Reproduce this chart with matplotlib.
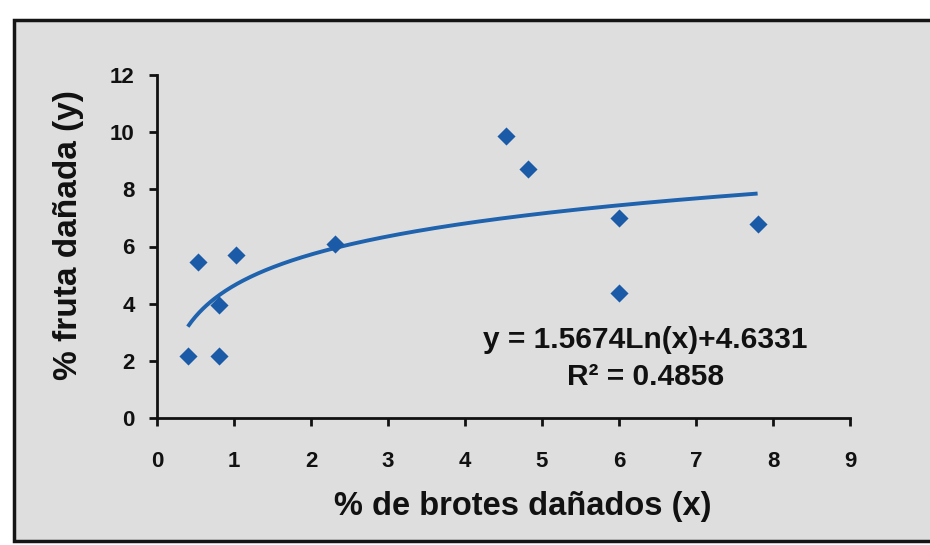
import matplotlib
matplotlib.use("Agg")
import matplotlib.pyplot as plt
import numpy as np
from matplotlib.patches import Rectangle

# ---- data ----
x_brotes = [0.40, 0.53, 0.81, 0.81, 1.03, 2.31, 4.53, 4.82, 6.00, 6.00, 7.80]
y_fruta = [2.17, 5.46, 2.17, 3.95, 5.70, 6.09, 9.87, 8.70, 6.98, 4.38, 6.78]
fit_slope = 1.5674
fit_intercept = 4.6331
fit_r2 = 0.4858
x_ticks = [0, 1, 2, 3, 4, 5, 6, 7, 8, 9]
y_ticks = [0, 2, 4, 6, 8, 10, 12]
x_label = "% de brotes dañados (x)"
y_label = "% fruta dañada (y)"

plt.rcParams['font.family'] = ['Liberation Sans', 'DejaVu Sans']
plt.rcParams['font.weight'] = 'bold'

W, H = 930, 545
fig = plt.figure(figsize=(W / 100, H / 100), dpi=100)
fig.patch.set_facecolor('white')

# outer frame of the chart (scanned Excel chart)
fig.patches.append(Rectangle((14 / W, 1 - 541 / H), (940 - 14) / W, (541 - 20) / H,
                             transform=fig.transFigure, facecolor='#dedede',
                             edgecolor='#151515', lw=2.5, zorder=-10))

ax = fig.add_axes([157 / W, 1 - 418 / H, 693 / W, 343 / H])
ax.set_facecolor('none')
ax.set_zorder(5)

line_color = '#1f62ad'
ax.scatter(x_brotes, y_fruta, marker='D', s=85, color='#1a5aa6', zorder=3, linewidths=0)

xs = np.linspace(min(x_brotes), max(x_brotes), 300)
ax.plot(xs, fit_slope * np.log(xs) + fit_intercept, color=line_color, lw=2.8, zorder=2,
        solid_capstyle='butt')

ax.set_xlim(0, 9)
ax.set_ylim(0, 12)
ax.set_xticks(x_ticks)
ax.set_yticks(y_ticks)
ax.set_xticklabels([str(v) for v in x_ticks])
ax.set_yticklabels([str(v) for v in y_ticks])

for s in ['top', 'right']:
    ax.spines[s].set_visible(False)
for s in ['left', 'bottom']:
    ax.spines[s].set_linewidth(2)
    ax.spines[s].set_color('#111111')

ax.tick_params(axis='both', direction='out', length=6, width=2, color='#111111',
               labelsize=16, labelcolor='#111111')
ax.tick_params(axis='x', pad=18)
ax.tick_params(axis='y', pad=10)
for lab in ax.get_xticklabels() + ax.get_yticklabels():
    lab.set_fontweight('bold')

ax.set_xlabel(x_label, fontsize=23.5, fontweight='bold', color='#111111')
ax.xaxis.label.set_va('center')
ax.xaxis.set_label_coords((523 - 157) / 693, (418 - 506) / 343)
ax.set_ylabel(y_label, fontsize=24, fontweight='bold', color='#111111')
ax.yaxis.label.set_va('center')
ax.yaxis.set_label_coords((68 - 157) / 693, (418 - 235) / 343)

fig.text(645 / W, 1 - 340 / H, f"y = {fit_slope:.4f}Ln(x)+{fit_intercept:.4f}",
         ha='center', va='center', fontsize=21.5, fontweight='bold', color='#111111')
fig.text(645 / W, 1 - 377 / H, f"R² = {fit_r2:.4f}",
         ha='center', va='center', fontsize=21.5, fontweight='bold', color='#111111')

fig.savefig('out.png', dpi=100, facecolor=fig.get_facecolor())
